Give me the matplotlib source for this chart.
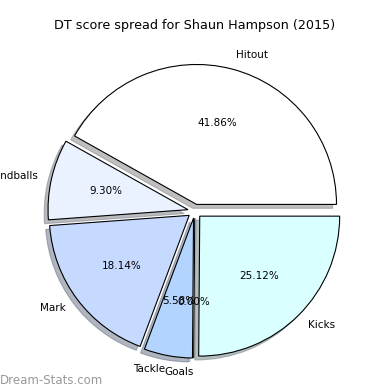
import matplotlib
matplotlib.use('Agg')
import matplotlib.pyplot as plt

# DT score breakdown
categories = ['Hitout', 'Handballs', 'Mark', 'Tackle', 'Goals', 'Kicks']
values = [41.86, 9.30, 18.14, 5.58, 0.00, 25.12]
colors = ['#ffffff', '#eaf1ff', '#c6d9ff', '#b3d4ff', '#9fc5ff', '#d9ffff']
explode = [0.05] * len(values)

fig = plt.figure(figsize=(3.9, 3.9), dpi=100)
ax = fig.add_axes([0.051, 0.01, 0.897, 0.897])

wedges, texts, autotexts = ax.pie(values, labels=categories, colors=colors,
                                  explode=explode, autopct='%1.2f%%',
                                  startangle=0,
                                  shadow={'ox': -0.02, 'oy': -0.02, 'shade': 0.5},
                                  wedgeprops={'edgecolor': 'black', 'linewidth': 0.8},
                                  textprops={'fontsize': 7.5})
ax.set_xlim(-1.25, 1.25)
ax.set_ylim(-1.25, 1.25)
ax.set_aspect('equal')

fig.text(0.5, 0.935, 'DT score spread for Shaun Hampson (2015)', ha='center',
         va='center', fontsize=9.2)
fig.text(0.0, 0.025, 'Dream-Stats.com', ha='left', va='center', fontsize=8.5,
         color='#999999')

fig.savefig('out.png', dpi=100)
